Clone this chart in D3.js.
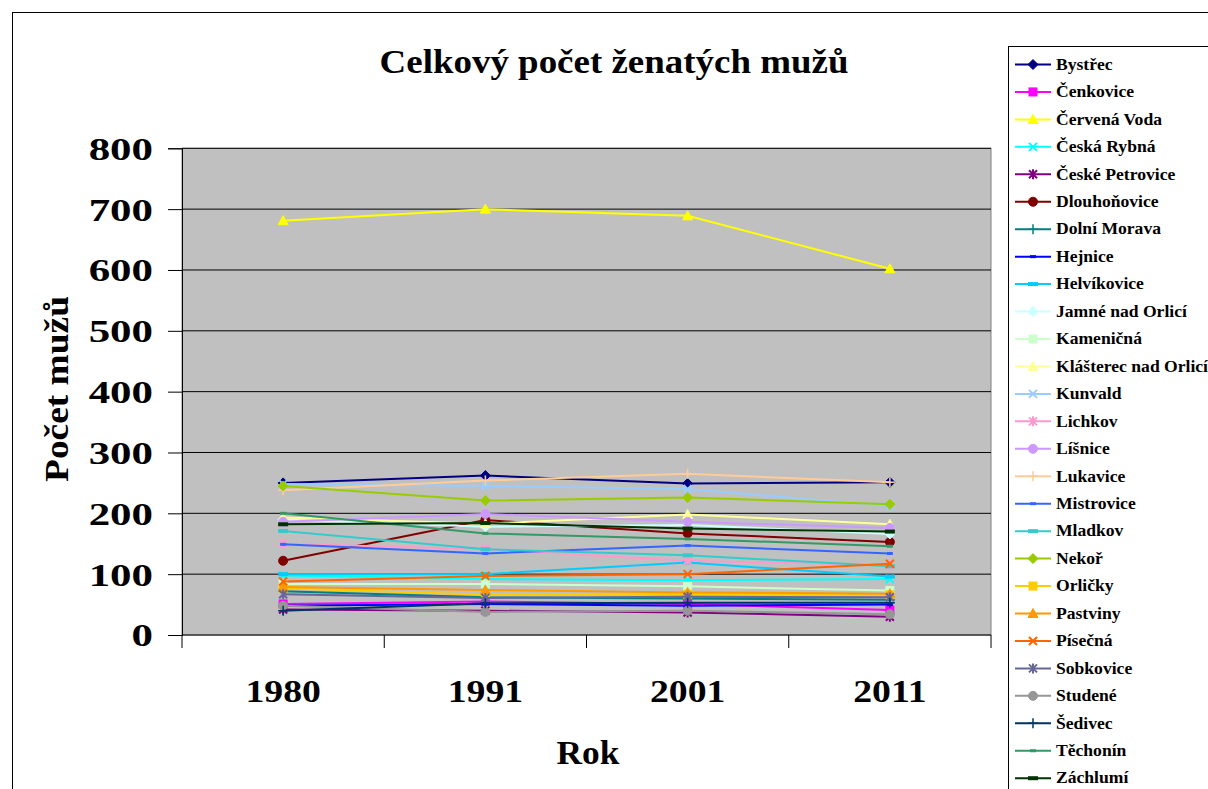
<!DOCTYPE html>
<html>
<head>
<meta charset="utf-8">
<script src="https://cdn.jsdelivr.net/npm/d3@7/dist/d3.min.js"></script>
<style>
  body { margin: 0; background: #fff; }
  text { font-family: "Liberation Serif", "Times New Roman", serif; font-weight: bold; fill: #000; }
</style>
</head>
<body>
<div id="chart"></div>
<script>
// Data
var years = ['1980', '1991', '2001', '2011'];
var villages = ['Bystřec', 'Čenkovice', 'Červená Voda', 'Česká Rybná', 'České Petrovice',
  'Dlouhoňovice', 'Dolní Morava', 'Hejnice', 'Helvíkovice', 'Jamné nad Orlicí', 'Kameničná',
  'Klášterec nad Orlicí', 'Kunvald', 'Lichkov', 'Líšnice', 'Lukavice', 'Mistrovice', 'Mladkov',
  'Nekoř', 'Orličky', 'Pastviny', 'Písečná', 'Sobkovice', 'Studené', 'Šedivec', 'Těchonín', 'Záchlumí'];
// one row per village, one value per year
var counts = [
  [250, 262, 249, 251],
  [51, 55, 51, 41],
  [681, 700, 689, 602],
  [98, 92, 90, 92],
  [42, 40, 37, 30],
  [122, 189, 167, 153],
  [72, 62, 60, 58],
  [48, 51, 48, 50],
  [100, 100, 119, 96],
  [190, 178, 181, 166],
  [84, 84, 80, 73],
  [193, 183, 198, 182],
  [248, 245, 240, 212],
  [150, 141, 122, 115],
  [186, 199, 186, 176],
  [238, 254, 265, 251],
  [149, 134, 147, 134],
  [171, 141, 131, 113],
  [245, 221, 226, 215],
  [77, 66, 67, 66],
  [79, 74, 70, 68],
  [88, 97, 100, 117],
  [67, 61, 63, 62],
  [48, 38, 40, 34],
  [40, 52, 53, 53],
  [200, 167, 158, 146],
  [182, 184, 175, 170]
];
var yTicks = [0, 100, 200, 300, 400, 500, 600, 700, 800];

// old excel line palette
var palette = ['#000080', '#FF00FF', '#FFFF00', '#00FFFF', '#800080', '#800000', '#008080', '#0000FF',
  '#00CCFF', '#CCFFFF', '#CCFFCC', '#FFFF99', '#99CCFF', '#FF99CC', '#CC99FF', '#FFCC99', '#3366FF',
  '#33CCCC', '#99CC00', '#FFCC00', '#FF9900', '#FF6600', '#666699', '#969696', '#003366', '#339966', '#003300'];
var markerTypes = ['diamond', 'square', 'triangle', 'x', 'star', 'circle', 'plus', 'dash', 'bar'];

var width = 1208, height = 789;
var plot = {left: 182, top: 148.3, right: 991, bottom: 635};

var svg = d3.select('#chart').append('svg')
    .attr('width', width)
    .attr('height', height);

// the source text is stretched sideways, so squeeze it out with a scale
function stretch(sel, px, py, sx) {
  sel.attr('x', 0).attr('y', 0)
     .attr('transform', 'translate(' + px + ',' + py + ')scale(' + sx + ',1)');
}

// chart border (runs off the picture)
svg.append('rect').attr('x', 12.5).attr('y', 12.5).attr('width', 1300).attr('height', 900)
    .attr('fill', '#fff').attr('stroke', '#000').attr('stroke-width', 1);

var x = d3.scaleBand().domain(years).range([plot.left, plot.right]);
var y = d3.scaleLinear().domain([0, 800]).range([plot.bottom, plot.top]);
function cx(d) { return x(d) + x.bandwidth() / 2; }

// plot area
svg.append('rect')
    .attr('x', plot.left).attr('y', plot.top)
    .attr('width', plot.right - plot.left).attr('height', plot.bottom - plot.top)
    .attr('fill', '#C0C0C0').attr('stroke', '#808080').attr('stroke-width', 1);

svg.append('g').selectAll('line')
    .data(yTicks.filter(function(t) { return t > 0; }))
    .enter().append('line')
    .attr('x1', plot.left).attr('x2', plot.right)
    .attr('y1', function(d) { return y(d); }).attr('y2', function(d) { return y(d); })
    .attr('stroke', '#000').attr('stroke-width', 1);

// y axis
var yAxis = svg.append('g')
    .attr('transform', 'translate(' + plot.left + ',0)')
    .call(d3.axisLeft(y).tickValues(yTicks).tickSize(14).tickPadding(14));
yAxis.select('.domain').attr('stroke', '#000');
yAxis.selectAll('.tick text').each(function() {
  var t = d3.select(this);
  t.attr('dy', '0.34em').attr('font-size', null).style('font-size', '32px');
  stretch(t, -29, 0, 1.34);
});
yAxis.attr('font-family', null).attr('font-size', null);

// x axis: ticks sit between categories
var xAxis = svg.append('g').attr('transform', 'translate(0,' + plot.bottom + ')');
xAxis.append('line').attr('x1', plot.left).attr('x2', plot.right).attr('stroke', '#000');
xAxis.selectAll('.tk')
    .data(years.concat(['end']))
    .enter().append('line')
    .attr('x1', function(d, i) { return plot.left + i * x.bandwidth(); })
    .attr('x2', function(d, i) { return plot.left + i * x.bandwidth(); })
    .attr('y1', 0).attr('y2', 13).attr('stroke', '#000');
xAxis.selectAll('.lbl')
    .data(years)
    .enter().append('text')
    .attr('text-anchor', 'middle')
    .style('font-size', '32px')
    .text(function(d) { return d; })
    .each(function(d) { stretch(d3.select(this), cx(d), 67, 1.18); });

// titles
stretch(svg.append('text').attr('text-anchor', 'middle')
    .style('font-size', '33px').text('Celkový počet ženatých mužů'), 614, 73, 1.12);
stretch(svg.append('text').attr('text-anchor', 'middle')
    .style('font-size', '34px').text('Rok'), 588, 764, 1.04);
svg.append('text').attr('transform', 'translate(68,389)rotate(-90)scale(1.1,1)').attr('text-anchor', 'middle')
    .style('font-size', '34px').text('Počet mužů');

function drawMarker(g, type, col) {
  switch (type) {
    case 'diamond':
      g.append('path').attr('d', 'M0,-5L5,0L0,5L-5,0Z').attr('fill', col).attr('stroke', col); break;
    case 'square':
      g.append('rect').attr('x', -4).attr('y', -4).attr('width', 8).attr('height', 8).attr('fill', col).attr('stroke', col); break;
    case 'triangle':
      g.append('path').attr('d', 'M0,-5L5,4L-5,4Z').attr('fill', col).attr('stroke', col); break;
    case 'x':
      g.append('path').attr('d', 'M-4,-4L4,4M-4,4L4,-4').attr('stroke', col).attr('stroke-width', 2); break;
    case 'star':
      g.append('path').attr('d', 'M-4,-4L4,4M-4,4L4,-4M0,-5L0,5').attr('stroke', col).attr('stroke-width', 2); break;
    case 'circle':
      g.append('circle').attr('r', 4.5).attr('fill', col).attr('stroke', col); break;
    case 'plus':
      g.append('path').attr('d', 'M-5,0L5,0M0,-5L0,5').attr('stroke', col).attr('stroke-width', 1.5); break;
    case 'dash':
      g.append('rect').attr('x', -3).attr('y', -1.5).attr('width', 6).attr('height', 3).attr('fill', col); break;
    case 'bar':
      g.append('rect').attr('x', -5).attr('y', -2).attr('width', 10).attr('height', 4).attr('fill', col); break;
  }
}

// series
var line = d3.line()
    .x(function(d) { return cx(d.year); })
    .y(function(d) { return y(d.value); });

villages.forEach(function(name, i) {
  var pts = years.map(function(yr, j) { return {year: yr, value: counts[i][j]}; });
  var col = palette[i];
  var s = svg.append('g').attr('class', 'series');
  s.append('path').datum(pts).attr('d', line)
      .attr('fill', 'none').attr('stroke', col).attr('stroke-width', 2);
  pts.forEach(function(p) {
    var m = s.append('g').attr('transform', 'translate(' + cx(p.year) + ',' + y(p.value) + ')');
    drawMarker(m, markerTypes[i % 9], col);
  });
});

// legend
var legend = svg.append('g');
legend.append('rect').attr('x', 1008.5).attr('y', 46.5).attr('width', 400).attr('height', 900)
    .attr('fill', '#fff').attr('stroke', '#000');
villages.forEach(function(name, i) {
  var ly = 64.5 + i * 27.45;
  var col = palette[i];
  var item = legend.append('g');
  item.append('line').attr('x1', 1015).attr('x2', 1051).attr('y1', ly).attr('y2', ly)
      .attr('stroke', col).attr('stroke-width', 2);
  drawMarker(item.append('g').attr('transform', 'translate(1033,' + ly + ')'), markerTypes[i % 9], col);
  stretch(item.append('text').attr('dy', '0.33em')
      .style('font-size', '16px').text(name), 1056, ly, 1.1);
});
</script>
</body>
</html>
